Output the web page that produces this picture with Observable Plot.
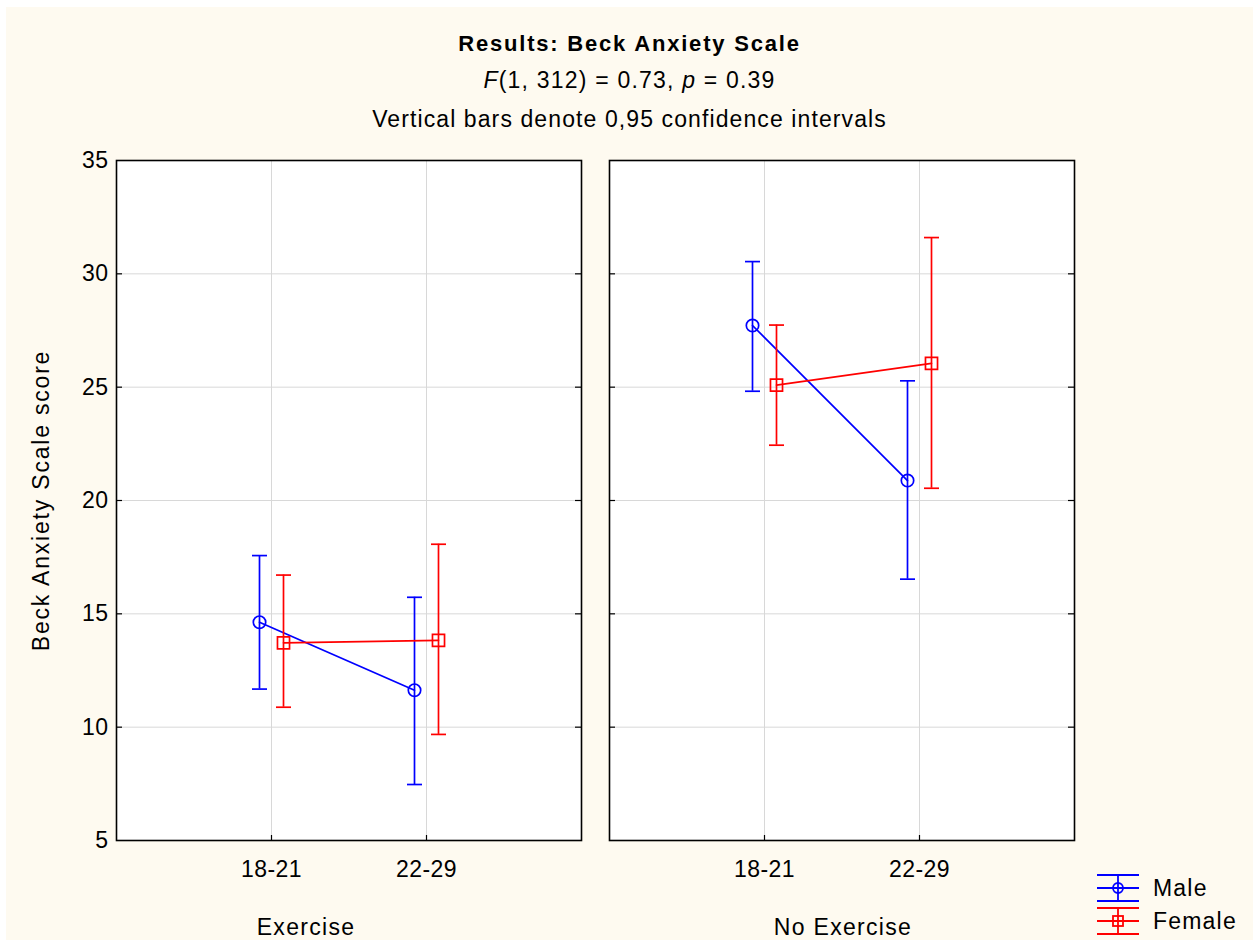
<!DOCTYPE html>
<html><head><meta charset="utf-8">
<script src="https://cdn.jsdelivr.net/npm/d3@7"></script>
<script src="https://cdn.jsdelivr.net/npm/@observablehq/plot@0.6"></script>
<style>
body{margin:0;background:#fff;font-family:"Liberation Sans",Arial,sans-serif;}
#wrap{position:relative;width:1259px;height:946px;background:#fff;overflow:hidden;}
#bg{position:absolute;left:6px;top:7px;width:1247px;height:933px;background:#fefaf0;}
.t{position:absolute;left:0;width:1259px;text-align:center;color:#000;line-height:24px;white-space:nowrap;}
#chart{position:absolute;left:0;top:140px;}
#legend{position:absolute;left:1090px;top:866px;}
#chart text{letter-spacing:0.4px;}
#chart g[aria-label="y-axis label"] text{letter-spacing:1.8px;}
#chart g[aria-label="text"] text{letter-spacing:1.3px;}
</style></head><body>
<div id="wrap"><div id="bg"></div>
<div class="t" style="top:32px;font-size:22px;font-weight:bold;letter-spacing:1.8px">Results: Beck Anxiety Scale</div>
<div class="t" style="top:68px;font-size:23px;letter-spacing:1.2px"><i>F</i>(1, 312) = 0.73, <i>p</i> = 0.39</div>
<div class="t" style="top:107px;font-size:23px;letter-spacing:1.1px">Vertical bars denote 0,95 confidence intervals</div>
<div id="chart"></div>
<div id="legend"></div>
</div>
<script>
// ---- data ----
const conditions = ["Exercise", "No Exercise"];
const ageGroups = ["18-21", "22-29"];
const sexes = ["Male", "Female"];
const sexColors = ["#0000ff", "#ff0000"];
const sexSymbols = ["circle", "square"];
const yTicks = [5, 10, 15, 20, 25, 30, 35];
// order: Exercise 18-21, Exercise 22-29, No Exercise 18-21, No Exercise 22-29
const maleMean  = [14.63, 11.63, 27.72, 20.88];
const maleLow   = [11.68,  7.47, 24.82, 16.53];
const maleHigh  = [17.57, 15.73, 30.54, 25.28];
const femaleMean = [13.72, 13.83, 25.09, 26.05];
const femaleLow  = [10.88,  9.68, 22.44, 20.54];
const femaleHigh = [16.71, 18.07, 27.74, 31.60];

const cells = conditions.flatMap(c => ageGroups.map(a => ({cond: c, age: a})));
const rows = [];
cells.forEach((cell, i) => {
  rows.push({...cell, sex: "Male", mean: maleMean[i], lo: maleLow[i], hi: maleHigh[i]});
  rows.push({...cell, sex: "Female", mean: femaleMean[i], lo: femaleLow[i], hi: femaleHigh[i]});
});

const capSymbol = {
  draw(ctx, size) {
    const w = Math.sqrt(size / Math.PI);
    ctx.moveTo(-w, 0); ctx.lineTo(w, 0);
  }
};

const sexMarks = sexes.flatMap((s, k) => {
  const d = rows.filter(r => r.sex === s);
  const dx = k === 0 ? -12 : 12;
  return [
    Plot.ruleX(d, {x: "age", y1: "lo", y2: "hi", fx: "cond", stroke: "sex", strokeWidth: 1.7, dx}),
    Plot.dot(d, {x: "age", y: "lo", fx: "cond", stroke: "sex", symbol: capSymbol, r: 7.5, fill: "none", strokeWidth: 1.7, dx}),
    Plot.dot(d, {x: "age", y: "hi", fx: "cond", stroke: "sex", symbol: capSymbol, r: 7.5, fill: "none", strokeWidth: 1.7, dx}),
    Plot.line(d, {x: "age", y: "mean", fx: "cond", stroke: "sex", strokeWidth: 1.7, dx}),
    Plot.dot(d, {x: "age", y: "mean", fx: "cond", stroke: "sex", symbol: sexSymbols[k], r: k === 0 ? 6.2 : 6.8, fill: "none", strokeWidth: 1.7, dx})
  ];
});

const chart = Plot.plot({
  width: 1259,
  height: 800,
  marginTop: 20,
  marginBottom: 100,
  marginLeft: 116,
  marginRight: 185,
  style: {background: "transparent", fontFamily: "'Liberation Sans', Arial, sans-serif", fontSize: "23px", color: "#000"},
  fx: {domain: conditions, paddingInner: 0.0568, paddingOuter: 0, axis: null, label: null},
  x: {type: "point", domain: ageGroups, padding: 1, label: null},
  y: {domain: [5, 35], label: null},
  color: {domain: sexes, range: sexColors},
  marks: [
    Plot.frame({fill: "white"}),
    Plot.gridY(yTicks.slice(1, -1), {stroke: "#d8d8d8", strokeOpacity: 1, strokeWidth: 1}),
    Plot.gridX(ageGroups, {stroke: "#d8d8d8", strokeOpacity: 1, strokeWidth: 1}),
    Plot.ruleY(yTicks.slice(1, -1), {insetRight: 459, stroke: "black", strokeWidth: 1.2}),
    Plot.ruleY(yTicks.slice(1, -1), {insetLeft: 459, stroke: "black", strokeWidth: 1.2}),
    Plot.ruleX(ageGroups, {insetTop: 675, stroke: "black", strokeWidth: 1.2}),
    ...sexMarks,
    Plot.frame({stroke: "black", strokeWidth: 1.6}),
    Plot.axisY({ticks: yTicks, tickSize: 0, tickPadding: 8, label: "Beck Anxiety Scale score", labelAnchor: "center", labelOffset: 84, labelArrow: "none"}),
    Plot.axisX({tickSize: 0, tickPadding: 20, label: null}),
    Plot.text([conditions[0]], {fx: d => d, text: d => d, frameAnchor: "bottom", dy: 94, dx: -43}),
    Plot.text([conditions[1]], {fx: d => d, text: d => d, frameAnchor: "bottom", dy: 94, dx: 1})
  ]
});
document.getElementById("chart").append(chart);

// legend (drawn from the sex/color/symbol arrays)
const ns = "http://www.w3.org/2000/svg";
const lg = document.createElementNS(ns, "svg");
lg.setAttribute("width", 170); lg.setAttribute("height", 76);
let html = "";
sexes.forEach((s, k) => {
  const c = sexColors[k];
  const y0 = 9 + k * 33;
  const ym = y0 + 13, y1 = y0 + 26;
  html += `<g stroke="${c}" stroke-width="1.8" fill="none">
    <line x1="7" x2="49" y1="${y0}" y2="${y0}"/>
    <line x1="7" x2="49" y1="${ym}" y2="${ym}"/>
    <line x1="7" x2="49" y1="${y1}" y2="${y1}"/>
    <line x1="28" x2="28" y1="${y0}" y2="${y1}"/>
    ${sexSymbols[k] === "circle" ? `<circle cx="28" cy="${ym}" r="5"/>` : `<rect x="23" y="${ym - 5}" width="10" height="10"/>`}
  </g>
  <text x="63" y="${ym + 8}" font-size="23" letter-spacing="1.2" font-family="'Liberation Sans', Arial, sans-serif" fill="#000">${s}</text>`;
});
lg.innerHTML = html;
document.getElementById("legend").append(lg);
</script>
</body></html>
